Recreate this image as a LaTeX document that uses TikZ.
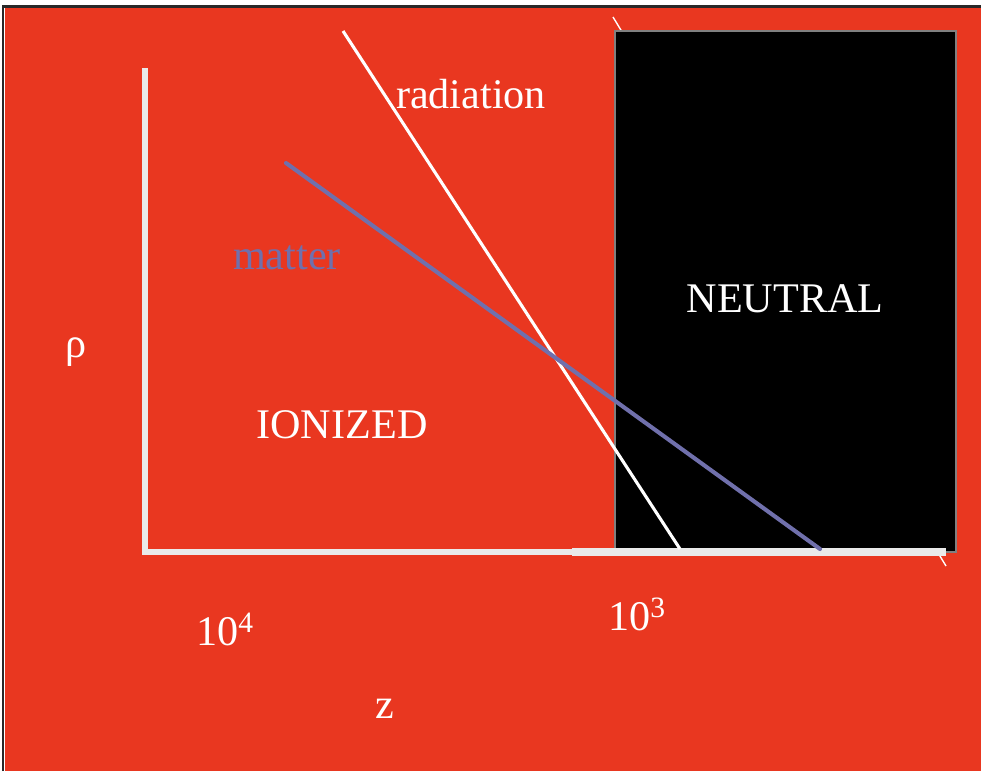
\documentclass[tikz,border=0pt]{standalone}
\usepackage{fontspec}
\setmainfont{Liberation Serif}
\usepackage{tikz}
\definecolor{bgred}{RGB}{233,55,32}
\definecolor{axisgray}{RGB}{234,234,234}
\definecolor{matterblue}{RGB}{112,112,172}
\definecolor{framegray}{RGB}{40,40,40}

\begin{document}
\begin{tikzpicture}[x=0.025cm, y=-0.025cm,
  lbl/.style={text=white, font=\fontsize{30}{32}\selectfont, inner sep=0pt, anchor=base},
  axisline/.style={draw=axisgray, line width=4.6pt},
  radline/.style={draw=white, line width=2.2pt},
  matline/.style={draw=matterblue, line width=2.9pt}]
  \useasboundingbox (0,0) rectangle (981,771);
  % background and frame
  \fill[white] (0,0) rectangle (981,771);
  \fill[bgred] (5,8) rectangle (981,771);
  \draw[framegray, line width=1.6pt] (3,771) -- (3,6.5) -- (981,6.5);
  % line hidden behind the neutral block
  \draw[white, line width=1pt] (613,17) -- (946,566);
  % neutral block
  \filldraw[fill=black, draw=gray, line width=0.8pt] (615,31) rectangle (956,552);
  % axes
  \coordinate (ytop) at (145,68);
  \coordinate (orig) at (145,552);
  \coordinate (xend) at (946,552);
  \draw[axisline] (ytop) -- (orig) -- (xend);
  \draw[axisline, line width=5.8pt] (572,552) -- (xend);
  % curves
  \coordinate (radA) at (343,31);
  \coordinate (radB) at (680,549);
  \coordinate (matA) at (286,163);
  \coordinate (matB) at (820,549);
  \draw[radline] (radA) -- (radB);
  \draw[matline, line cap=round] (matA) -- (matB);
  % labels
  \node[lbl] (rad) at (471,108) {radiation};
  \node[lbl, text=matterblue] (mat) at (287,269) {matter};
  \node[lbl] (neutral) at (785,312) {NEUTRAL};
  \node[lbl] (ion) at (342,438) {IONIZED};
  \node[lbl] (rho) at (76,357) {ρ};
  \node[lbl] (ztick4) at (225,645) {10\textsuperscript{4}};
  \node[lbl] (ztick3) at (637,630) {10\textsuperscript{3}};
  \node[lbl] (zlab) at (385,718) {z};
\end{tikzpicture}
\end{document}
